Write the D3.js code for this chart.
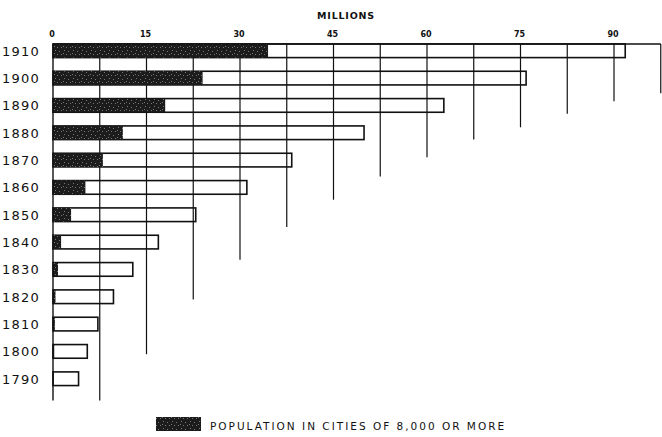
<!DOCTYPE html>
<html><head><meta charset="utf-8">
<script src="https://cdn.jsdelivr.net/npm/d3@7"></script>
<style>html,body{margin:0;padding:0;background:#fff;}svg{display:block;}</style>
</head><body>
<script>
const years = [1910, 1900, 1890, 1880, 1870, 1860, 1850, 1840, 1830, 1820, 1810, 1800, 1790];
const totalPop = [91.8, 75.9, 62.7, 49.9, 38.3, 31.1, 22.9, 16.9, 12.8, 9.7, 7.2, 5.5, 4.1];
const urbanPop = [34.5, 24.0, 18.0, 11.2, 8.0, 5.2, 2.9, 1.3, 0.8, 0.4, 0.3, 0.2, 0.1];
const tickValues = [0, 15, 30, 45, 60, 75, 90];
const gridValues = [7.5, 15, 22.5, 30, 37.5, 45, 52.5, 60, 67.5, 75, 82.5, 90, 97.5];
const gridEndYears = [1782, 1799, 1819, 1833.5, 1845.5, 1855.5, 1864, 1871, 1877.5, 1882, 1887, 1891.5, 1894.5];
const axisTitle = "MILLIONS";
const legendLabel = "POPULATION IN CITIES OF 8,000 OR MORE";

const W = 662, H = 437;
const svg = d3.select("body").append("svg").attr("width", W).attr("height", H);

const x = d3.scaleLinear().domain([0, 90]).range([53, 614]);
const y = d3.scaleBand().domain(years).range([37.1, 392.4]).paddingInner(0.5).paddingOuter(0.25);
const bw = y.bandwidth();
const yYear = d3.scaleLinear().domain([1910, 1790]).range([y(1910) + bw / 2, y(1790) + bw / 2]);
const topY = y(1910);

// speckle pattern for urban bars
const defs = svg.append("defs");
const pat = defs.append("pattern").attr("id", "speck").attr("patternUnits", "userSpaceOnUse")
  .attr("width", 9).attr("height", 7);
pat.append("rect").attr("width", 9).attr("height", 7).attr("fill", "#1c1c1c");
[[1,1],[5,2],[3,5],[7,5],[0,4]].forEach(p => pat.append("rect").attr("x", p[0]).attr("y", p[1])
  .attr("width", 1).attr("height", 1).attr("fill", "#777"));

const data = years.map((yr, i) => ({year: yr, total: totalPop[i], urban: urbanPop[i]}));

// total bars (white)
svg.append("g").selectAll("rect").data(data).join("rect")
  .attr("x", x(0)).attr("y", d => y(d.year))
  .attr("width", d => x(d.total) - x(0)).attr("height", bw)
  .attr("fill", "#fff").attr("stroke", "#111").attr("stroke-width", 1.6);

// grid lines (staircase)
svg.append("g").selectAll("line").data(gridValues).join("line")
  .attr("x1", d => x(d)).attr("x2", d => x(d))
  .attr("y1", topY).attr("y2", (d, i) => yYear(gridEndYears[i]))
  .attr("stroke", "#111").attr("stroke-width", 1.2);

// urban bars
svg.append("g").selectAll("rect").data(data).join("rect")
  .attr("x", x(0)).attr("y", d => y(d.year))
  .attr("width", d => x(d.urban) - x(0)).attr("height", bw)
  .attr("fill", "url(#speck)");

// top axis line and left axis line
svg.append("line").attr("x1", x(0)).attr("x2", x(97.5)).attr("y1", topY).attr("y2", topY)
  .attr("stroke", "#111").attr("stroke-width", 1.6);
svg.append("line").attr("x1", x(0)).attr("x2", x(0)).attr("y1", topY).attr("y2", yYear(1782))
  .attr("stroke", "#111").attr("stroke-width", 1.4);

// tick labels
svg.append("g").selectAll("text").data(tickValues).join("text")
  .attr("x", d => x(d) - 1).attr("y", 37).attr("text-anchor", "middle")
  .attr("font-family", "DejaVu Sans").attr("font-size", 8).attr("font-weight", "bold")
  .attr("fill", "#111").text(d => d);

// axis title
svg.append("text").attr("x", 346).attr("y", 19).attr("text-anchor", "middle")
  .attr("font-family", "DejaVu Sans").attr("font-size", 9.5).attr("font-weight", "bold")
  .attr("letter-spacing", 0.8).attr("fill", "#111").text(axisTitle);

// year labels
svg.append("g").selectAll("text").data(years).join("text")
  .attr("x", 40).attr("y", d => y(d) + bw / 2 + 5).attr("text-anchor", "end")
  .attr("font-family", "DejaVu Sans").attr("font-size", 13)
  .attr("letter-spacing", 1.2).attr("fill", "#111").text(d => d);

// legend
svg.append("rect").attr("x", 156).attr("y", 417).attr("width", 45).attr("height", 14)
  .attr("fill", "url(#speck)");
svg.append("text").attr("x", 210).attr("y", 430)
  .attr("font-family", "DejaVu Sans").attr("font-size", 10.5)
  .attr("letter-spacing", 2.0).attr("fill", "#111").text(legendLabel);
</script>
</body></html>
